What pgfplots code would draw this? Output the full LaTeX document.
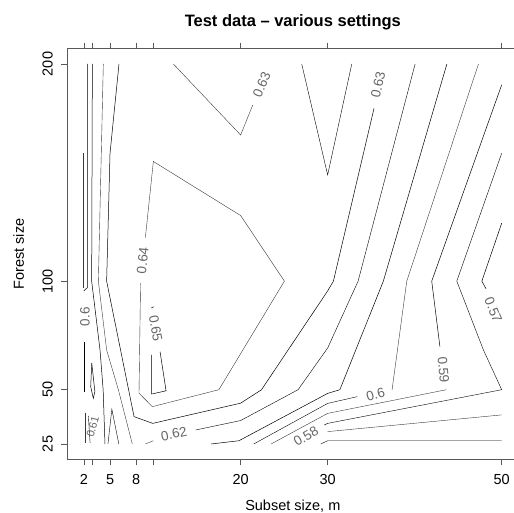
\documentclass[border=0pt]{standalone}
\usepackage{pgfplots}
\pgfplotsset{compat=1.18}
\usepackage{fontspec}
\setmainfont{Liberation Sans}
\tikzset{lbl/.style={font=\fontsize{13.5}{15}\selectfont, text=black!60, inner sep=0pt}}
\begin{document}
\begin{tikzpicture}
\begin{axis}[
  name=ax, at={(0,0)}, anchor=south west,
  scale only axis, width=451.1pt, height=410.4pt,
  xmin=0.08, xmax=51.92, ymin=18, ymax=207,
  axis line style={black!65, line width=0.7pt},
  xtick={2,3,5,8,10,20,30,50}, xticklabels={2,,5,8,,20,30,50},
  ytick={25,50,100,200},
  tick align=outside, major tick length=6pt,
  tick style={black!65, line width=0.7pt},
  tick label style={font=\fontsize{14.5}{16}\selectfont},
  yticklabel style={rotate=90, anchor=south},
  xticklabel style={anchor=north},
  xticklabel shift=6pt, yticklabel shift=5pt,
  /pgf/number format/assume math mode=true,
  clip=false,
  cycle list={{black!78, solid, line width=0.5pt}},
  no markers,
]
% ---- 0.63, upper piece
\addplot coordinates {(12.27,200) (20,167.3) (21.39,181.1)};
% ---- V near x = 30
\addplot coordinates {(27.02,200) (30,148.9) (32.77,200)};
% ---- 0.63 main
\addplot coordinates {(6.02,200) (4.99,158.9) (4.6,100) (7.75,37.6) (9.9,34.5) (20,43.8) (22.4,50) (30,95.5) (30.66,100) (35.33,179.6)};
% ---- 0.64
\addplot coordinates {(9.05,120) (9.97,155.1) (20,130.2) (25.03,100) (17.5,50) (9.85,42.2) (8.32,48.4) (8.5,99)};
% ---- 0.65
\addplot coordinates {(9.7,87.6) (10.05,88.2)};
\addplot coordinates {(10.74,67.5) (11.43,49.5) (9.78,48) (9.76,66)};
% ---- 0.62
\addplot coordinates {(9.05,25) (9.97,26.5)};
\addplot coordinates {(14.84,31.45) (20,35.8) (26.6,50) (30,69.2) (33.5,100) (40.05,200)};
% ---- 0.61
\addplot coordinates {(16.6,25) (19.8,26.5) (30,48.3) (31.4,50) (36.4,100) (43.7,200)};
% ---- 0.6
\addplot coordinates {(47.33,200) (39.09,100) (37.4,49.9)};
\addplot coordinates {(33.4,46.8) (30,43.7) (21.5,25)};
% ---- 0.59
\addplot coordinates {(50,190.4) (41.96,100) (42.9,69.8)};
\addplot coordinates {(43.65,50) (30,39.1) (23.5,25)};
% ---- 0.58
\addplot coordinates {(50,158.9) (44.84,100) (47.9,68.3) (50,50) (30,34.5) (29.6,33.7)};
% ---- 0.57
\addplot coordinates {(50,126.7) (47.72,100) (48.2,96.5)};
\addplot coordinates {(50,38.4) (30,30.7)};
% ---- 0.56
\addplot coordinates {(50,26.5) (30,26.5) (29.2,25)};
% ---- left group
\addplot coordinates {(2.38,200) (2.38,97) (1.97,95.5)};
\addplot coordinates {(1.93,158.9) (1.93,96.7)};
\addplot coordinates {(1.97,72) (1.97,49)};
\addplot coordinates {(2.96,200) (2.88,100) (3.84,68.3) (4.2,50) (4.41,25)};
\addplot coordinates {(4.22,200) (3.65,100) (4.6,68.3) (5.95,50) (7.55,25)};
\addplot coordinates {(4.75,25) (5.2,41) (6.0,25)};
\addplot coordinates {(2.89,62.3) (3.25,49.1) (3.07,46) (2.77,51.4) (2.89,62.3)};
\addplot coordinates {(2.1,39.3) (2.1,25.5)};
\addplot coordinates {(2.5,38) (2.7,25.5)};
% ---- labels
\node[lbl, rotate=67] at (axis cs:22.42,190.4) {0.63};
\node[lbl, rotate=77] at (axis cs:35.8,190.4) {0.63};
\node[lbl, rotate=84] at (axis cs:8.75,109.5) {0.64};
\node[lbl, rotate=-80] at (axis cs:10.24,78.3) {0.65};
\node[lbl, rotate=90] at (axis cs:2.1,83.6) {0.6};
\node[lbl, rotate=75, font=\fontsize{11}{12}\selectfont] at (axis cs:3.0,33) {0.61};
\node[lbl, rotate=12] at (axis cs:12.34,29.6) {0.62};
\node[lbl, rotate=16] at (axis cs:35.5,47.6) {0.6};
\node[lbl, rotate=-85] at (axis cs:43.3,59.1) {0.59};
\node[lbl, rotate=31] at (axis cs:27.5,28.6) {0.58};
\node[lbl, rotate=-68] at (axis cs:49.05,86.7) {0.57};
\end{axis}
\node[font=\bfseries\fontsize{16.5}{18}\selectfont, anchor=base] at (225.5pt,432.5pt) {Test data -- various settings};
\node[font=\fontsize{14.5}{16}\selectfont, anchor=base] at (225.5pt,-51pt) {Subset size, m};
\node[font=\fontsize{14.5}{16}\selectfont, anchor=base, rotate=90] at (-43.5pt,205.2pt) {Forest size};
\pgfresetboundingbox
\useasboundingbox (-67.3pt,-53.8pt) rectangle (446.7pt,459.2pt);
\end{tikzpicture}
\end{document}
